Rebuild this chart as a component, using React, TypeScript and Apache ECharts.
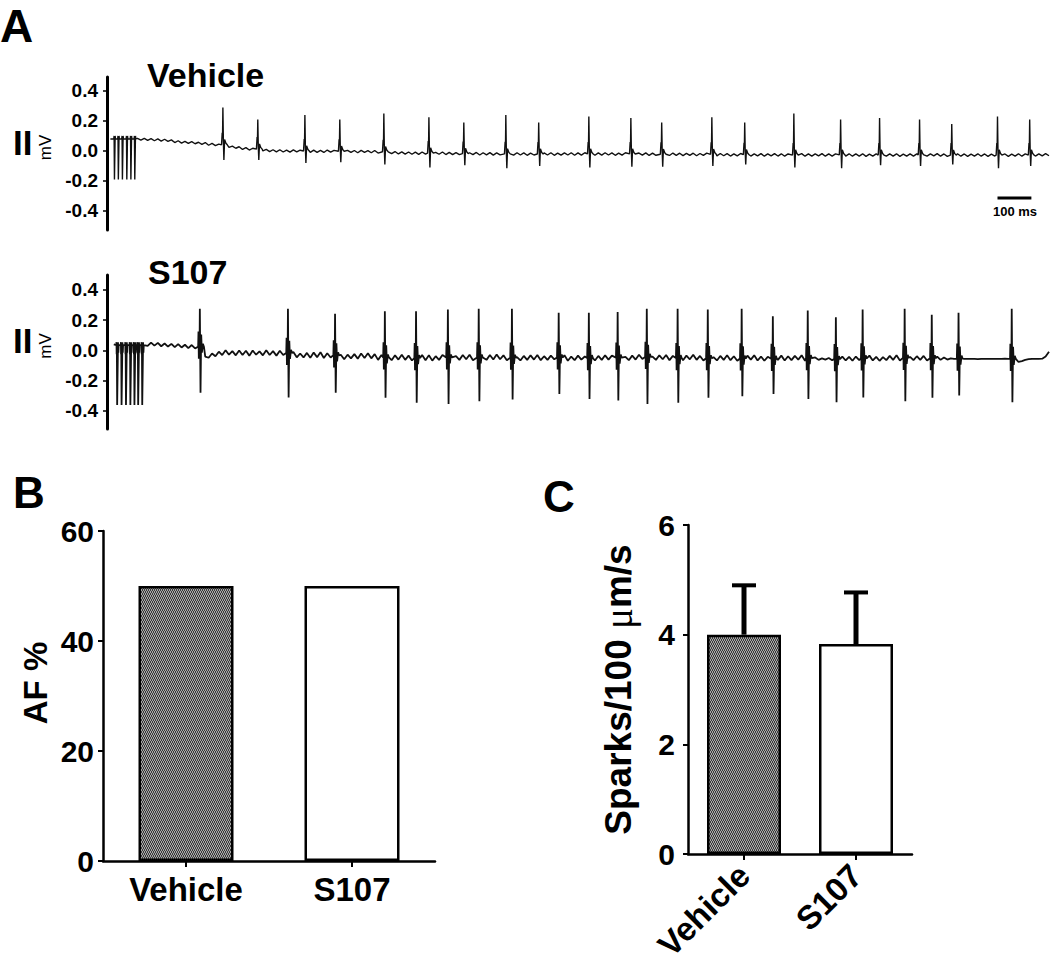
import React, { useEffect, useRef } from 'react';
import * as echarts from 'echarts';

const FONT = '"Liberation Sans", Arial, Helvetica, sans-serif';
const STEP_MS = 10;
const TRACE_MAX_MS = 2780;

// ---- Panel A, Vehicle trace (lead II). Baseline in 1/1000 mV every 10 ms ----
const vehicleBaseline = [
  null, 80, 82, 80, 82, 80, 82, 80, 82, 84,
  72, 84, 70, 82, 68, 80, 66, 78, 64, 74,
  56, 68, 52, 64, 50, 62, 48, 58, 44, 56,
  38, 50, 36, 46, 32, 40, 24, 32, 18, 28,
  10, 22, 6, 18, 4, 14, 0, 10, -4, 8,
  -6, 8, -7, 6, -8, 7, -6, 5, -9, 4,
  -10, 5, -9, 4, -10, 6, -8, 4, -11, 3,
  -11, 4, -10, 3, -12, 4, -9, 2, -12, 3,
  -14, 0, -16, -2, -18, -4, -20, -6, -21, -7,
  -22, -8, -23, -7, -21, -8, -24, -9, -22, -7,
  -24, -10, -25, -11, -24, -9, -26, -12, -25, -10,
  -27, -12, -26, -11, -28, -13, -26, -12, -27, -11,
  -28, -12, -27, -13, -29, -14, -27, -12, -28, -13,
  -27, -12, -29, -14, -28, -13, -27, -12, -29, -13,
  -28, -12, -27, -14, -29, -13, -28, -12, -27, -13,
  -29, -14, -28, -12, -27, -13, -29, -14, -28, -13,
  -30, -15, -29, -14, -31, -16, -30, -14, -29, -15,
  -31, -16, -30, -15, -32, -17, -30, -15, -31, -16,
  -33, -17, -32, -18, -34, -19, -33, -17, -32, -18,
  -34, -19, -33, -18, -35, -20, -33, -18, -34, -19,
  -35, -20, -34, -19, -33, -18, -35, -20, -34, -19,
  -33, -18, -35, -20, -34, -19, -36, -21, -34, -19,
  -35, -20, -34, -19, -36, -21, -35, -20, -33, -18,
  -35, -20, -34, -19, -36, -21, -35, -20, -34, -19,
  -36, -21, -35, -20, -33, -18, -35, -20, -36, -21,
  -34, -19, -35, -20, -36, -21, -34, -19, -35, -20,
  -36, -21, -34, -19, -35, -20, -36, -21, -34, -19,
  -35, -20, -36, -21, -34, -19, -33, -18, -32,
];
const vehicleBeatTimes = [342, 445, 584, 687, 817, 950, 1053, 1177, 1274, 1422, 1546, 1637, 1785, 1882, 2027, 2165, 2280, 2398, 2493, 2628, 2723];
const vehicleBeatPeaks = [0.29, 0.21, 0.24, 0.21, 0.25, 0.225, 0.19, 0.24, 0.19, 0.23, 0.22, 0.19, 0.225, 0.19, 0.25, 0.21, 0.22, 0.21, 0.18, 0.23, 0.21];
const vehicleBeatTroughs = [-0.06, -0.06, -0.08, -0.075, -0.09, -0.11, -0.095, -0.115, -0.1, -0.11, -0.105, -0.105, -0.1, -0.09, -0.11, -0.115, -0.095, -0.1, -0.09, -0.115, -0.1];
const vehiclePaceTimes = [21.5, 33, 45, 58, 70, 81.5];
const vehiclePace = { high: 0.1, low: -0.19, level: 0.08 };

// ---- Panel A, S107 trace ----
const s107Baseline = [
  null, null, 40, 45, 38, 46, 40, 45, 38, 44,
  40, 48, 30, 52, 32, 50, 28, 46, 26, 44,
  22, 42, 20, 38, 16, 36, 14, 20, 0, -40,
  -48, -20, -38, -8, -30, 2, -28, -4, -32, 0,
  -30, -2, -34, 0, -28, -6, -32, 2, -30, -4,
  -34, -2, -30, -8, -36, -10, -45, -20, -46, -16,
  -48, -14, -44, -12, -50, -18, -46, -22, -56, -28,
  -58, -28, -52, -24, -54, -20, -50, -18, -52, -24,
  -62, -30, -66, -38, -64, -32, -60, -28, -62, -34,
  -66, -36, -60, -30, -64, -32, -67, -38, -62, -30,
  -60, -40, -68, -38, -62, -30, -58, -28, -64, -40,
  -68, -36, -62, -30, -60, -26, -58, -32, -64, -36,
  -70, -44, -66, -36, -62, -32, -60, -30, -64, -38,
  -62, -34, -58, -28, -60, -32, -68, -40, -64, -34,
  -60, -40, -70, -42, -66, -36, -62, -32, -60, -34,
  -58, -36, -68, -42, -64, -34, -60, -28, -56, -30,
  -66, -40, -62, -32, -58, -30, -64, -36, -68, -42,
  -64, -34, -58, -28, -62, -36, -66, -40, -70, -44,
  -66, -36, -62, -32, -64, -38, -68, -42, -62, -34,
  -60, -32, -66, -40, -68, -42, -64, -36, -62, -34,
  -66, -38, -64, -36, -60, -32, -68, -50, -66, -46,
  -62, -52, -60, -50, -64, -54, -62, -40, -66, -42,
  -68, -40, -64, -36, -62, -34, -66, -42, -68, -44,
  -64, -36, -62, -32, -66, -40, -68, -42, -64, -38,
  -62, -36, -66, -42, -64, -40, -62, -46, -60, -52,
  -56, -54, -57, -55, -56, -55, -56, -57, -55, -56,
  -56, -55, -55, -56, -55, -54, -56, -70, -78, -76,
  -70, -62, -57, -55, -56, -55, -54, -40, -8,
];
const s107BeatTimes = [274, 534, 673, 820, 912, 1006, 1097, 1195, 1333, 1422, 1507, 1593, 1684, 1773, 1873, 1965, 2068, 2151, 2230, 2354, 2434, 2513, 2670];
const s107BeatPeaks = [0.276, 0.276, 0.243, 0.26, 0.26, 0.271, 0.276, 0.276, 0.25, 0.25, 0.254, 0.276, 0.276, 0.271, 0.276, 0.227, 0.265, 0.22, 0.271, 0.276, 0.236, 0.25, 0.276];
const s107BeatTroughs = [-0.28, -0.31, -0.28, -0.313, -0.346, -0.353, -0.336, -0.324, -0.287, -0.32, -0.33, -0.353, -0.346, -0.313, -0.302, -0.287, -0.32, -0.342, -0.31, -0.336, -0.313, -0.298, -0.342];
const s107PaceTimes = [30, 43, 56, 69, 81, 92, 104];
const s107Pace = { high: 0.055, low: -0.36, level: 0.035 };

const traceTicks = [-0.4, -0.2, 0, 0.2, 0.4];
const scaleBarMs = [2628, 2728];
const scaleBarLevel = -0.313;

// ---- Panels B and C ----
const groups = ['Vehicle', 'S107'];
const afPercent = [50, 50];
const sparksMean = [4.0, 3.83];
const sparksSem = [0.9, 0.94];

type Pt = [number, number];

function levelBefore(base: (number | null)[], t: number): number {
  const i = Math.floor((t - 8) / STEP_MS);
  const a = base[i] ?? base[i - 1] ?? 0;
  const b = base[i - 1] ?? a;
  return (a + b) / 2000;
}

function beatShape(t: number, b: number, peak: number, trough: number, big: boolean): Pt[] {
  if (!big) {
    return [[t - 4, b], [t - 2, b + 0.08], [t - 1, b + 0.05], [t, peak], [t + 1.5, b + 0.02], [t + 3, trough], [t + 5, b + 0.035], [t + 9, b + 0.01], [t + 13, b]];
  }
  return [[t - 5, b], [t - 4, b + 0.1], [t - 3, b - 0.08], [t - 2, b + 0.1], [t - 1, b - 0.05], [t, peak], [t + 2, trough], [t + 3, b - 0.1], [t + 4, b + 0.08], [t + 6, b - 0.04], [t + 9, b + 0.02], [t + 12, b]];
}

function paceShape(t: number, hi: number, lo: number, level: number, big: boolean): Pt[] {
  if (!big) return [[t - 1.5, level], [t - 0.5, hi], [t + 0.5, lo], [t + 1.5, lo], [t + 2.5, hi], [t + 3.5, level]];
  return [[t - 2.5, level], [t - 2, hi], [t - 1.5, level - 0.06], [t - 1, hi], [t, lo], [t + 1.5, lo], [t + 2.5, hi], [t + 3.5, level - 0.05], [t + 4.5, level]];
}

function buildTrace(base: (number | null)[], beatT: number[], peaks: number[], troughs: number[], paceT: number[], pace: { high: number; low: number; level: number }, big: boolean): Pt[] {
  const pts: Pt[] = [];
  const paceStart = paceT[0] - 4;
  const paceEnd = paceT[paceT.length - 1] + 6;
  base.forEach((v, i) => {
    if (v == null) return;
    const t = i * STEP_MS;
    if (t >= paceStart && t <= paceEnd) return;
    if (beatT.some((tb) => t > tb - 8 && t < tb + 15)) return;
    pts.push([t, v / 1000]);
  });
  beatT.forEach((tb, k) => {
    beatShape(tb, levelBefore(base, tb), peaks[k], troughs[k], big).forEach((p) => pts.push(p));
  });
  paceT.forEach((tp) => paceShape(tp, pace.high, pace.low, pace.level, big).forEach((p) => pts.push(p)));
  pts.sort((a, b) => a[0] - b[0]);
  return pts;
}

function makeStipple(): HTMLCanvasElement | string {
  try {
    const c = document.createElement('canvas');
    c.width = 4;
    c.height = 4;
    const ctx = c.getContext('2d');
    if (!ctx) return '#666';
    ctx.fillStyle = '#3a3a3a';
    ctx.fillRect(0, 0, 4, 4);
    ctx.fillStyle = '#a8a8a8';
    [[0, 0], [2, 0], [1, 1], [3, 2], [1, 2], [0, 3], [2, 3], [3, 1]].forEach(([x, y]) => ctx.fillRect(x, y, 1, 1));
    return c;
  } catch (e) {
    return '#666';
  }
}

export default function App() {
  const ref = useRef<HTMLDivElement>(null);

  useEffect(() => {
    if (!ref.current) return;
    const chart = echarts.init(ref.current, null, { renderer: 'svg' });
    const stipple = makeStipple();
    const stippleFill: any = typeof stipple === 'string' ? stipple : { image: stipple, repeat: 'repeat' };

    const vehicleTrace = buildTrace(vehicleBaseline, vehicleBeatTimes, vehicleBeatPeaks, vehicleBeatTroughs, vehiclePaceTimes, vehiclePace, false);
    const s107Trace = buildTrace(s107Baseline, s107BeatTimes, s107BeatPeaks, s107BeatTroughs, s107PaceTimes, s107Pace, true);

    const traceYAxis = (gridIndex: number, min: number, max: number) => ({
      type: 'value',
      gridIndex,
      min,
      max,
      name: 'mV',
      nameLocation: 'middle',
      nameRotate: 90,
      nameGap: 44,
      nameTextStyle: { fontFamily: FONT, fontSize: 17, color: '#000', padding: [0, 0, 0, 12] },
      axisLine: { show: true, lineStyle: { color: '#000', width: 3 } },
      axisTick: { show: true, length: 4, customValues: traceTicks, lineStyle: { color: '#000', width: 1.5 } },
      axisLabel: {
        show: true,
        customValues: traceTicks,
        margin: 9,
        formatter: (v: number) => v.toFixed(1),
        fontFamily: FONT,
        fontSize: 19,
        fontWeight: 'bold',
        color: '#000',
      },
      splitLine: { show: false },
    });

    const barYAxis = (gridIndex: number, max: number, interval: number, name: string, nameGap: number, extraName: any) => ({
      type: 'value',
      gridIndex,
      min: 0,
      max,
      interval,
      name,
      nameLocation: 'middle',
      nameRotate: 90,
      nameGap,
      nameTextStyle: { fontFamily: FONT, fontSize: 33, fontWeight: 'bold', color: '#000', ...extraName },
      axisLine: { show: true, lineStyle: { color: '#000', width: 2.5 } },
      axisTick: { show: true, length: 5, lineStyle: { color: '#000', width: 2 } },
      axisLabel: { margin: gridIndex === 2 ? 9 : 13, fontFamily: FONT, fontSize: 30, fontWeight: 'bold', color: '#000' },
      splitLine: { show: false },
    });

    const barXAxis = (gridIndex: number, rotate: number, margin: number, fontSize: number) => ({
      type: 'category',
      gridIndex,
      data: groups,
      axisLine: { show: true, lineStyle: { color: '#000', width: 2.5 } },
      axisTick: { show: true, alignWithLabel: true, length: 6, lineStyle: { color: '#000', width: 2 } },
      axisLabel: { rotate, margin, fontFamily: FONT, fontSize, fontWeight: 'bold', color: '#000', interval: 0 },
      splitLine: { show: false },
    });

    const gridBase = { containLabel: false, outerBoundsMode: 'none' };

    const option: any = {
      animation: false,
      backgroundColor: '#fff',
      title: [
        { text: 'A', left: 0, top: 3, padding: 0, textStyle: { fontFamily: FONT, fontSize: 46, fontWeight: 'bold', color: '#000' } },
        { text: 'Vehicle', left: 147, top: 58, padding: 0, textStyle: { fontFamily: FONT, fontSize: 34, fontWeight: 'bold', color: '#000' } },
        { text: 'S107', left: 148, top: 255, padding: 0, textStyle: { fontFamily: FONT, fontSize: 34, fontWeight: 'bold', color: '#000' } },
        { text: 'B', left: 13, top: 470, padding: 0, textStyle: { fontFamily: FONT, fontSize: 44, fontWeight: 'bold', color: '#000' } },
        { text: 'C', left: 543, top: 474, padding: 0, textStyle: { fontFamily: FONT, fontSize: 44, fontWeight: 'bold', color: '#000' } },
      ],
      grid: [
        { ...gridBase, left: 107, top: 77, width: 942, height: 153 },
        { ...gridBase, left: 107, top: 275, width: 942, height: 154 },
        { ...gridBase, left: 103, top: 531, width: 332, height: 330 },
        { ...gridBase, left: 688, top: 525, width: 224, height: 329 },
      ],
      xAxis: [
        { type: 'value', gridIndex: 0, min: 0, max: TRACE_MAX_MS, show: false },
        { type: 'value', gridIndex: 1, min: 0, max: TRACE_MAX_MS, show: false },
        barXAxis(2, 0, 12, 33),
        barXAxis(3, 45, 16, 33),
      ],
      yAxis: [
        traceYAxis(0, -0.527, 0.493),
        traceYAxis(1, -0.519, 0.499),
        barYAxis(2, 60, 20, 'AF %', 51, { padding: [0, 0, 0, 26] }),
        barYAxis(3, 6, 2, '{b|Sparks/100 }{mu|\u03bc}{b|m/s}', 50, {
          rich: {
            b: { fontFamily: FONT, fontSize: 37, fontWeight: 'bold', color: '#000' },
            mu: { fontFamily: '"Liberation Serif", "DejaVu Serif", serif', fontSize: 39, fontWeight: 'normal', color: '#000' },
          },
        }),
      ],
      graphic: [
        { type: 'text', left: 13, top: 125, style: { text: 'II', fontFamily: FONT, fontSize: 35, fontWeight: 'bold', fill: '#000' } },
        { type: 'text', left: 13, top: 323, style: { text: 'II', fontFamily: FONT, fontSize: 35, fontWeight: 'bold', fill: '#000' } },
        { type: 'text', left: 993, top: 205, style: { text: '100 ms', fontFamily: FONT, fontSize: 13, fontWeight: 'bold', fill: '#000' } },
      ],
      series: [
        {
          type: 'line',
          xAxisIndex: 0,
          yAxisIndex: 0,
          data: vehicleTrace,
          symbol: 'none',
          lineStyle: { color: '#111', width: 1.4 },
          silent: true,
        },
        {
          type: 'line',
          xAxisIndex: 0,
          yAxisIndex: 0,
          data: scaleBarMs.map((t) => [t, scaleBarLevel]),
          symbol: 'none',
          lineStyle: { color: '#000', width: 3 },
          silent: true,
        },
        {
          type: 'line',
          xAxisIndex: 1,
          yAxisIndex: 1,
          data: s107Trace,
          symbol: 'none',
          lineStyle: { color: '#111', width: 1.8 },
          silent: true,
        },
        {
          type: 'bar',
          xAxisIndex: 2,
          yAxisIndex: 2,
          barWidth: 95,
          data: afPercent.map((v, i) => ({ value: v, itemStyle: { color: i === 0 ? stippleFill : '#fff' } })),
          itemStyle: { borderColor: '#000', borderWidth: 2.5 },
        },
        {
          type: 'bar',
          xAxisIndex: 3,
          yAxisIndex: 3,
          barWidth: 74,
          data: sparksMean.map((v, i) => ({ value: v, itemStyle: { color: i === 0 ? stippleFill : '#fff' } })),
          itemStyle: { borderColor: '#000', borderWidth: 2.5 },
        },
        {
          type: 'custom',
          xAxisIndex: 3,
          yAxisIndex: 3,
          data: sparksMean.map((m, i) => [i, m, sparksSem[i]]),
          z: 5,
          renderItem: (params: any, api: any) => {
            const base = api.coord([api.value(0), api.value(1)]);
            const top = api.coord([api.value(0), api.value(1) + api.value(2)]);
            return {
              type: 'group',
              children: [
                { type: 'line', shape: { x1: base[0], y1: base[1], x2: top[0], y2: top[1] }, style: { stroke: '#000', lineWidth: 5 } },
                { type: 'line', shape: { x1: top[0] - 12, y1: top[1], x2: top[0] + 12, y2: top[1] }, style: { stroke: '#000', lineWidth: 4 } },
              ],
            };
          },
        },
      ],
    };

    chart.setOption(option);
    return () => chart.dispose();
  }, []);

  return (
    <div
      ref={ref}
      style={{ position: 'absolute', left: 0, top: 0, width: 1050, height: 967, background: '#fff' }}
    />
  );
}
